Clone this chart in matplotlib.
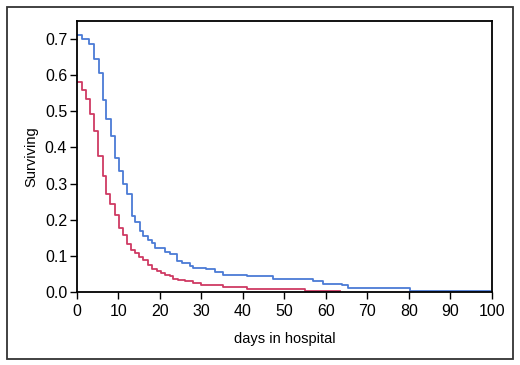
import matplotlib
matplotlib.use("Agg")
import matplotlib.pyplot as plt
from matplotlib.patches import Rectangle

plt.rcParams['font.family'] = ['Liberation Sans', 'DejaVu Sans']

# survival curve, group 1 (blue)
days_blue = [0, 1.3, 3.0, 4.1, 5.2, 6.3, 7.0, 8.1, 9.2, 10.1, 11.2, 12.1, 13.3,
             14.1, 15.2, 16.0, 17.0, 18.0, 18.8, 21.2, 22.4, 24.0, 25.2, 27.2,
             28.0, 31.2, 33.3, 35.3, 40.9, 47.3, 57.0, 59.4, 63.8, 65.4, 80.2, 99.5]
surv_blue = [0.710, 0.701, 0.685, 0.645, 0.605, 0.530, 0.480, 0.433, 0.371, 0.335,
             0.300, 0.272, 0.210, 0.193, 0.170, 0.155, 0.145, 0.135, 0.122, 0.110,
             0.105, 0.085, 0.080, 0.072, 0.067, 0.063, 0.055, 0.047, 0.043, 0.035,
             0.030, 0.022, 0.020, 0.012, 0.003, 0.003]

# survival curve, group 2 (red)
days_red = [0, 1.1, 2.2, 3.1, 4.2, 5.1, 6.3, 7.0, 8.0, 9.2, 10.2, 11.2, 12.1, 13.0,
            14.0, 15.0, 16.0, 17.2, 18.2, 19.2, 20.2, 21.2, 22.4, 23.2, 24.4, 26.0,
            28.0, 30.0, 32.0, 35.3, 40.9, 55.0, 63.4]
surv_red = [0.580, 0.560, 0.535, 0.492, 0.445, 0.375, 0.322, 0.270, 0.243, 0.213,
            0.178, 0.158, 0.133, 0.117, 0.108, 0.097, 0.088, 0.075, 0.065, 0.057,
            0.053, 0.048, 0.043, 0.037, 0.032, 0.030, 0.025, 0.020, 0.018, 0.014,
            0.007, 0.004, 0.004]

x_ticks = list(range(0, 101, 10))
y_ticks = [0.0, 0.1, 0.2, 0.3, 0.4, 0.5, 0.6, 0.7]

fig = plt.figure(figsize=(5.2, 3.65), dpi=100)
ax = fig.add_axes([0.148, 0.2, 0.798, 0.7425])

ax.step(days_blue, surv_blue, where='post', color='#4b7bd6', lw=1.3)
ax.step(days_red, surv_red, where='post', color='#cf3a63', lw=1.3)

ax.set_xlim(0, 100)
ax.set_ylim(0, 0.75)
ax.set_xticks(x_ticks)
ax.set_yticks(y_ticks)
ax.set_yticklabels([f"{v:.1f}" for v in y_ticks])
ax.tick_params(direction='out', length=5, width=1, labelsize=11.5, colors='black')
ax.tick_params(axis='x', pad=4)
ax.tick_params(axis='y', pad=2)
for s in ax.spines.values():
    s.set_linewidth(1.3)
    s.set_color('black')

ax.set_xlabel('days in hospital', fontsize=10.5, labelpad=9)
ax.set_ylabel('Surviving', fontsize=10.5, labelpad=5)

# outer frame around the whole figure
fig.patches.append(Rectangle((0.0135, 0.0164), 0.973, 0.965, transform=fig.transFigure,
                             fill=False, edgecolor='#333333', lw=1.3))

plt.savefig('out.png', dpi=100)
